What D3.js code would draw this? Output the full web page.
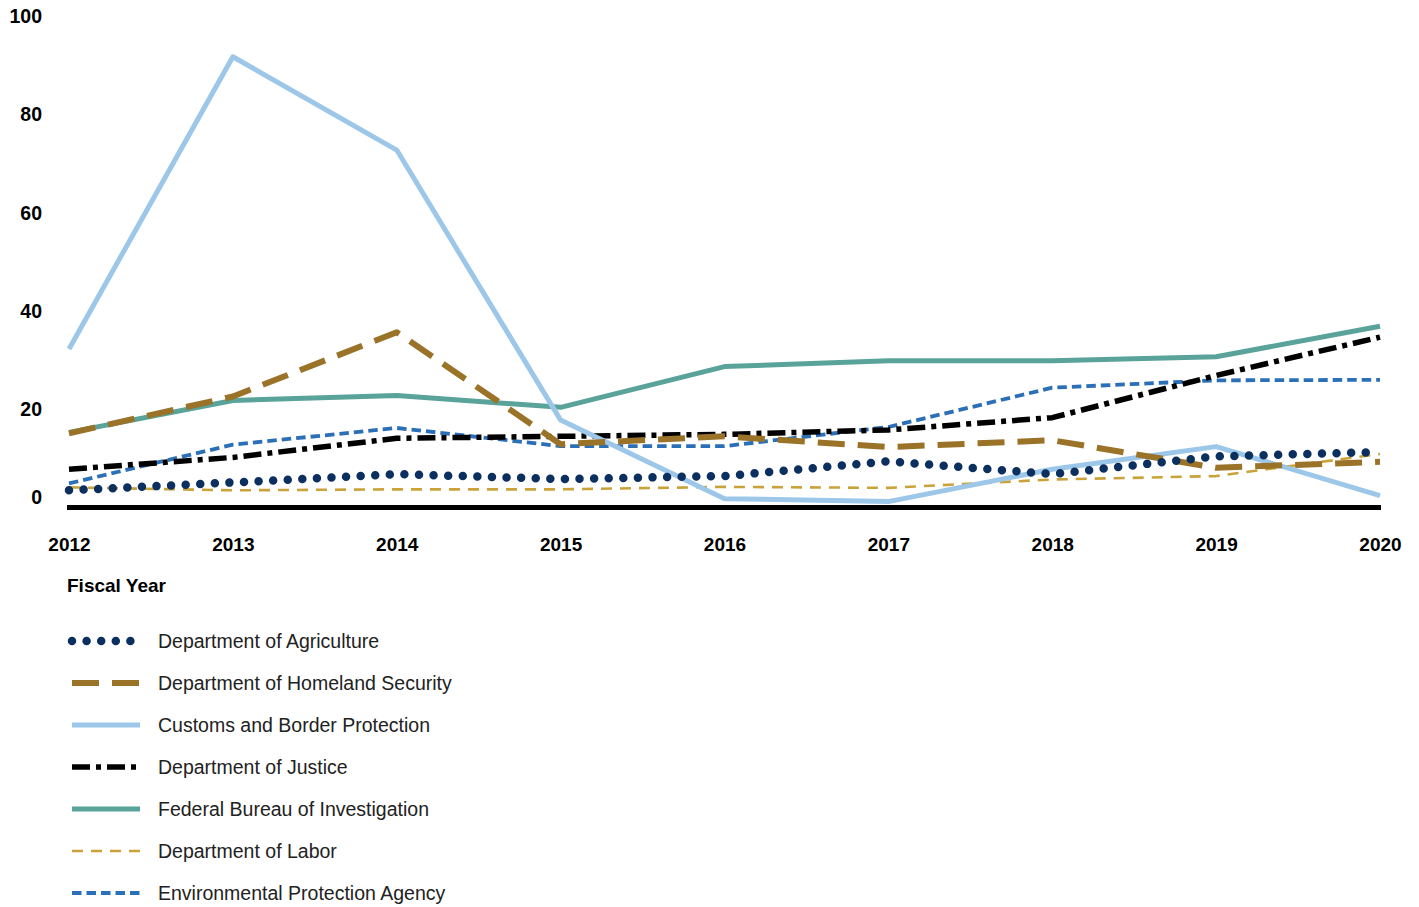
<!DOCTYPE html>
<html>
<head>
<meta charset="utf-8">
<script src="https://cdn.jsdelivr.net/npm/d3@7"></script>
<style>
  body { margin: 0; background: #fff; }
  svg { display: block; font-family: "Liberation Sans", Arial, sans-serif; }
</style>
</head>
<body>
<svg width="1419" height="907"></svg>
<script>
const years = [2012, 2013, 2014, 2015, 2016, 2017, 2018, 2019, 2020];
const yTicks = [0, 20, 40, 60, 80, 100];

const agriculture = [3.5, 5.1, 6.8, 5.8, 6.4, 9.4, 6.8, 10.4, 11.3];
const homeland = [15.1, 22.6, 35.7, 12.9, 14.5, 12.3, 13.7, 8.1, 9.3];
const customs = [32.3, 91.8, 72.8, 17.8, 1.8, 1.2, 7.8, 12.4, 2.4];
const justice = [7.8, 10.2, 14.1, 14.5, 14.9, 15.8, 18.3, 26.9, 34.7];
const fbi = [15.3, 21.8, 22.8, 20.4, 28.7, 29.9, 29.9, 30.7, 36.9];
const labor = [4.1, 3.5, 3.7, 3.7, 4.2, 4.0, 5.7, 6.4, 10.9];
const epa = [4.9, 12.8, 16.2, 12.5, 12.5, 16.4, 24.4, 25.9, 26.0];

const series = [
  { name: "Department of Agriculture", values: agriculture, color: "#0b2f5e", width: 8.5, dash: "0,14.6", cap: "round" },
  { name: "Department of Homeland Security", values: homeland, color: "#9a7228", width: 6, dash: "27,13", cap: "butt" },
  { name: "Customs and Border Protection", values: customs, color: "#9dc7e8", width: 5, dash: null, cap: "butt" },
  { name: "Department of Justice", values: justice, color: "#000000", width: 5.5, dash: "18,6,5,6", cap: "butt" },
  { name: "Federal Bureau of Investigation", values: fbi, color: "#5aa39a", width: 5, dash: null, cap: "butt" },
  { name: "Department of Labor", values: labor, color: "#c9a23a", width: 2.6, dash: "11,8", cap: "butt" },
  { name: "Environmental Protection Agency", values: epa, color: "#2b6fb7", width: 3.8, dash: "9.5,5", cap: "butt" }
];

const svg = d3.select("svg");

const x = d3.scalePoint()
  .domain(years)
  .range([69, 1380]);

const y = d3.scaleLinear()
  .domain([0, 100])
  .range([507.5, 16.5]);

// Y axis labels
const yAxis = svg.append("g")
  .attr("transform", "translate(42,0)")
  .call(d3.axisLeft(y).tickValues(yTicks).tickSize(0).tickPadding(0));
yAxis.select(".domain").remove();
yAxis.selectAll("text")
  .attr("fill", "#000")
  .style("font-size", "19.5px")
  .style("font-weight", "bold")
  .style("font-family", "'Liberation Sans', Arial, sans-serif")
  .attr("dy", d => d === 0 ? "-0.2em" : "0.32em");

// X axis labels
const xAxis = svg.append("g")
  .attr("transform", "translate(0,537)")
  .call(d3.axisBottom(x).tickSize(0).tickPadding(0));
xAxis.select(".domain").remove();
xAxis.selectAll("text")
  .attr("fill", "#000")
  .style("font-size", "19px")
  .style("font-weight", "bold")
  .style("font-family", "'Liberation Sans', Arial, sans-serif");

svg.append("text")
  .attr("x", 67)
  .attr("y", 592)
  .style("font-size", "19px")
  .style("font-weight", "bold")
  .text("Fiscal Year");

const line = d3.line()
  .x((d, i) => x(years[i]))
  .y(d => y(d));

// Lines (last series drawn first)
svg.append("g")
  .selectAll("path")
  .data(series.slice().reverse())
  .join("path")
  .attr("d", d => line(d.values))
  .attr("fill", "none")
  .attr("stroke", d => d.color)
  .attr("stroke-width", d => d.width)
  .attr("stroke-dasharray", d => d.dash)
  .attr("stroke-linecap", d => d.cap)
  .attr("stroke-linejoin", "round");

// Baseline
svg.append("line")
  .attr("x1", 67)
  .attr("x2", 1381)
  .attr("y1", y(0))
  .attr("y2", y(0))
  .attr("stroke", "#000")
  .attr("stroke-width", 5);

// Legend
const legend = svg.append("g")
  .selectAll("g")
  .data(series)
  .join("g")
  .attr("transform", (d, i) => `translate(0,${641 + i * 42})`);

legend.append("line")
  .attr("x1", 72)
  .attr("x2", 140)
  .attr("stroke", d => d.color)
  .attr("stroke-width", d => d.width)
  .attr("stroke-dasharray", d => d.dash)
  .attr("stroke-linecap", d => d.cap);

legend.append("text")
  .attr("x", 158)
  .attr("dy", "0.35em")
  .attr("fill", "#222")
  .style("font-size", "19.5px")
  .text(d => d.name);
</script>
</body>
</html>
